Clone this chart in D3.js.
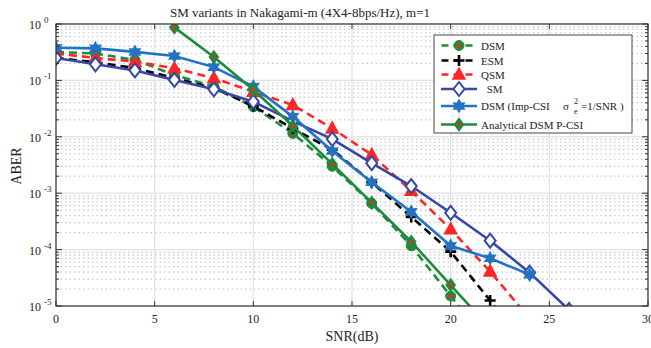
<!DOCTYPE html>
<html>
<head>
  <meta charset="utf-8">
  <title>SM variants in Nakagami-m</title>
  <script src="https://d3js.org/d3.v7.min.js"></script>
  <style>
    body { margin: 0; background: white; }
    text { font-family: "Liberation Serif", "DejaVu Serif", serif; fill: #222; }
  </style>
</head>
<body>
<div id="output"></div>

<script type="text/javascript">

  // SNR points (dB)
  var snr = [0, 2, 4, 6, 8, 10, 12, 14, 16, 18, 20, 22, 24, 26];
  var snrAna = [6, 8, 10, 12, 14, 16, 18, 20, 22];

  // ABER values
  var dsm = [0.32, 0.30, 0.23, 0.125, 0.078, 0.034, 0.0115, 0.0030, 0.00066, 0.000117, 0.000015, 0.000002];
  var esm = [0.25, 0.21, 0.165, 0.11, 0.073, 0.035, 0.014, 0.0059, 0.00156, 0.00038, 0.000092, 0.0000125, 0.0000015];
  var qsm = [0.30, 0.25, 0.215, 0.164, 0.11, 0.063, 0.0367, 0.0141, 0.0048, 0.0011, 0.00023, 0.000041, 0.000006];
  var sm  = [0.25, 0.193, 0.150, 0.102, 0.0695, 0.042, 0.019, 0.0091, 0.0034, 0.00134, 0.00045, 0.000144, 0.000039, 0.0000085];
  var imp = [0.38, 0.37, 0.32, 0.27, 0.172, 0.078, 0.0228, 0.0056, 0.00156, 0.00047, 0.000117, 0.00007, 0.000036];
  var ana = [0.87, 0.26, 0.068, 0.0156, 0.0033, 0.00068, 0.000138, 0.0000235, 0.000004];

  var xTicks = [0, 5, 10, 15, 20, 25, 30];
  var yExps = [0, -1, -2, -3, -4, -5];

  var w = 651, h = 348;
  var m = {top: 24, right: 3, bottom: 42, left: 56};
  var wChart = w - m.left - m.right;
  var hChart = h - m.top - m.bottom;

  var x = d3.scaleLinear().domain([0, 30]).range([0, wChart]);
  var y = d3.scaleLog().domain([1e-5, 1]).range([hChart, 0]);

  var svg = d3.select("#output").append("svg")
          .attr("width", w)
          .attr("height", h);

  var chart = svg.append("g")
          .attr("transform", "translate(" + m.left + "," + m.top + ")");

  chart.append("clipPath").attr("id", "clip")
          .append("rect").attr("width", wChart).attr("height", hChart);

  // grid
  var minors = [];
  yExps.slice(1).forEach(function(e){
    for (var k = 2; k <= 9; k++) minors.push(k * Math.pow(10, e));
  });

  chart.selectAll(".minor").data(minors).enter().append("line")
          .attr("x1", 0).attr("x2", wChart)
          .attr("y1", function(d){ return y(d) }).attr("y2", function(d){ return y(d) })
          .attr("stroke", "#c8c8c8").attr("stroke-width", 1.2)
          .attr("stroke-dasharray", "1.5,3");

  chart.selectAll(".hgrid").data(yExps).enter().append("line")
          .attr("x1", 0).attr("x2", wChart)
          .attr("y1", function(d){ return y(Math.pow(10, d)) }).attr("y2", function(d){ return y(Math.pow(10, d)) })
          .attr("stroke", "#e2e2e2").attr("stroke-width", 1.2);

  chart.selectAll(".vgrid").data(xTicks).enter().append("line")
          .attr("x1", function(d){ return x(d) }).attr("x2", function(d){ return x(d) })
          .attr("y1", 0).attr("y2", hChart)
          .attr("stroke", "#e2e2e2").attr("stroke-width", 1.2);

  // markers
  function hexagram(r) {
    var p = [];
    for (var i = 0; i < 12; i++) {
      var a = -Math.PI / 2 + i * Math.PI / 6;
      var rr = (i % 2 == 0) ? r : r * 0.55;
      p.push([rr * Math.cos(a), rr * Math.sin(a)]);
    }
    return "M" + p.join("L") + "Z";
  }
  function diamond(hw, hh) {
    return "M0," + (-hh) + "L" + hw + ",0L0," + hh + "L" + (-hw) + ",0Z";
  }

  var series = [
    {name: "DSM", xs: snr, ys: dsm, color: "#1f8a3c", dash: "8,5", marker: "circle"},
    {name: "ESM", xs: snr, ys: esm, color: "#000000", dash: "8,5", marker: "plus"},
    {name: "QSM", xs: snr, ys: qsm, color: "#ff2626", dash: "8,5", marker: "triangle"},
    {name: "SM", xs: snr, ys: sm, color: "#3548a8", dash: null, marker: "diamond"},
    {name: "Imp", xs: snr, ys: imp, color: "#1f74c6", dash: null, marker: "hexagram"},
    {name: "Ana", xs: snrAna, ys: ana, color: "#1f8a3c", dash: null, marker: "greendiamond"}
  ];

  function drawMarker(g, s) {
    if (s.marker == "circle") {
      g.append("circle").attr("r", 5).attr("fill", s.color).attr("stroke", s.color);
      g.append("circle").attr("r", 2).attr("fill", "#ff2020");
    } else if (s.marker == "plus") {
      g.append("path").attr("d", "M-5.5,0H5.5M0,-5.5V5.5")
              .attr("stroke", s.color).attr("stroke-width", 2.6);
    } else if (s.marker == "triangle") {
      g.append("path").attr("d", "M0,-6.5L6,4.5L-6,4.5Z")
              .attr("fill", s.color).attr("stroke", s.color).attr("stroke-width", 1.5);
    } else if (s.marker == "diamond") {
      g.append("path").attr("d", diamond(5.5, 7))
              .attr("fill", "white").attr("stroke", s.color).attr("stroke-width", 2);
    } else if (s.marker == "hexagram") {
      g.append("path").attr("d", hexagram(5.8))
              .attr("fill", "#2f6fb8").attr("stroke", s.color).attr("stroke-width", 1.6);
    } else if (s.marker == "greendiamond") {
      g.append("path").attr("d", diamond(4.5, 6))
              .attr("fill", s.color).attr("stroke", s.color).attr("stroke-width", 1.5);
      g.append("circle").attr("r", 1.8).attr("fill", "#ff2020");
    }
  }

  var line = d3.line()
          .x(function(d){ return x(d[0]) })
          .y(function(d){ return y(d[1]) });

  var plot = chart.append("g").attr("clip-path", "url(#clip)");

  series.forEach(function(s){
    var pts = s.ys.map(function(v, i){ return [s.xs[i], v] });
    plot.append("path")
            .datum(pts)
            .attr("d", line)
            .attr("fill", "none")
            .attr("stroke", s.color)
            .attr("stroke-width", 2.6)
            .attr("stroke-dasharray", s.dash);

    plot.selectAll(".m" + s.name)
            .data(pts)
            .enter()
            .append("g")
            .attr("transform", function(d){ return "translate(" + x(d[0]) + "," + y(d[1]) + ")" })
            .each(function(){ drawMarker(d3.select(this), s) });
  });

  // axes frame and ticks
  var frame = "#333";
  chart.append("rect").attr("width", wChart).attr("height", hChart)
          .attr("fill", "none").attr("stroke", frame).attr("stroke-width", 1.2);

  xTicks.forEach(function(t){
    chart.append("line").attr("x1", x(t)).attr("x2", x(t)).attr("y1", hChart).attr("y2", hChart - 5)
            .attr("stroke", frame);
    chart.append("line").attr("x1", x(t)).attr("x2", x(t)).attr("y1", 0).attr("y2", 5)
            .attr("stroke", frame);
    chart.append("text").attr("x", x(t)).attr("y", hChart + 17)
            .attr("text-anchor", "middle").attr("font-size", 12).text(t);
  });

  minors.forEach(function(v){
    [[0, 3], [wChart, wChart - 3]].forEach(function(e){
      chart.append("line").attr("x1", e[0]).attr("x2", e[1]).attr("y1", y(v)).attr("y2", y(v))
              .attr("stroke", frame);
    });
  });

  yExps.forEach(function(e){
    var yy = y(Math.pow(10, e));
    [[0, 6], [wChart, wChart - 6]].forEach(function(p){
      chart.append("line").attr("x1", p[0]).attr("x2", p[1]).attr("y1", yy).attr("y2", yy)
              .attr("stroke", frame);
    });
    chart.append("text").attr("x", -15).attr("y", yy + 5)
            .attr("text-anchor", "end").attr("font-size", 12).text("10");
    chart.append("text").attr("x", -12).attr("y", yy - 1)
            .attr("font-size", 9).text(e == 0 ? "0" : "-" + (-e));
  });

  // titles
  svg.append("text").attr("x", 300).attr("y", 17)
          .attr("text-anchor", "middle").attr("font-size", 13)
          .text("SM variants in Nakagami-m (4X4-8bps/Hz), m=1");

  svg.append("text").attr("x", m.left + wChart / 2).attr("y", 341)
          .attr("text-anchor", "middle").attr("font-size", 14).text("SNR(dB)");

  svg.append("text").attr("transform", "translate(21,166) rotate(-90)")
          .attr("text-anchor", "middle").attr("font-size", 14).text("ABER");

  // legend
  var legend = svg.append("g");
  legend.append("rect").attr("x", 434).attr("y", 35).attr("width", 198).attr("height", 98)
          .attr("fill", "white").attr("stroke", "#444").attr("stroke-width", 1);

  var rowY = [45.5, 60.5, 74.5, 89, 106, 124.5];
  var labels = ["DSM", "ESM", "QSM", " SM", "DSM (Imp-CSI", "Analytical DSM P-CSI"];

  series.forEach(function(s, i){
    var ly = rowY[i];
    legend.append("line").attr("x1", 441).attr("x2", 477).attr("y1", ly).attr("y2", ly)
            .attr("stroke", s.color).attr("stroke-width", 2.6).attr("stroke-dasharray", s.dash ? "7,5" : null)
            .attr("stroke-dashoffset", s.dash ? -0.5 : null);
    var g = legend.append("g").attr("transform", "translate(459," + ly + ")");
    drawMarker(g, s);
    legend.append("text").attr("x", i == 3 ? 484 : 481).attr("y", ly + 4)
            .attr("font-size", 11).attr("xml:space", "preserve").text(labels[i]);
  });

  legend.append("text").attr("x", 563).attr("y", 110).attr("font-size", 11).text("\u03c3");
  legend.append("text").attr("x", 574).attr("y", 104).attr("font-size", 8).text("2");
  legend.append("text").attr("x", 574).attr("y", 114).attr("font-size", 8).text("e");
  legend.append("text").attr("x", 581).attr("y", 110).attr("font-size", 11).text("=1/SNR )");

</script>

</body>
</html>
